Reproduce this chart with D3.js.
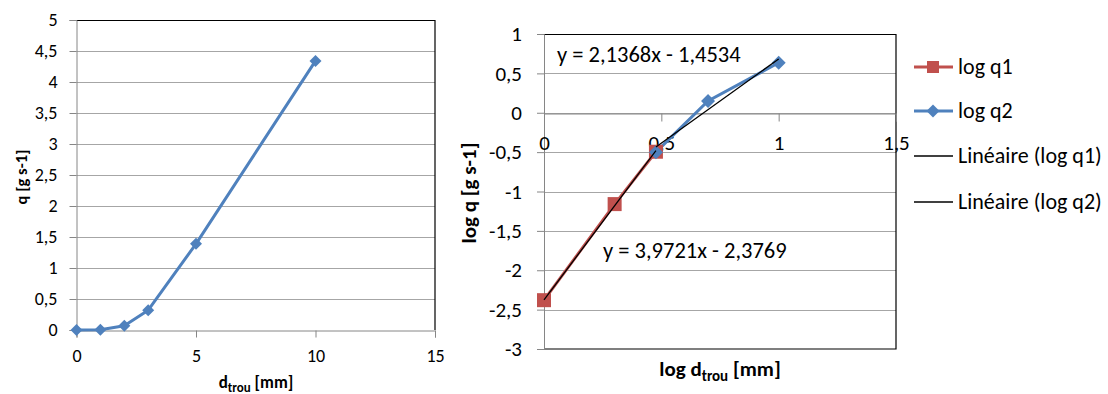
<!DOCTYPE html>
<html><head><meta charset="utf-8">
<script src="https://cdn.jsdelivr.net/npm/d3@7"></script>
<style>body{margin:0;background:#fff}svg{display:block}text{font-family:Carlito,Lato,"Open Sans",sans-serif;fill:#000}</style>
</head><body><svg id="c" width="1108" height="394"></svg>
<script>
// Left chart data
const dMm = [0, 1, 2, 3, 5, 10];
const qVals = [0, 0.004, 0.07, 0.32, 1.39, 4.34];
const leftXTicks = [0, 5, 10, 15];
const leftYTicks = [0, 0.5, 1, 1.5, 2, 2.5, 3, 3.5, 4, 4.5, 5];
// Right chart data
const logD1 = [0, 0.301, 0.477];
const logQ1 = [-2.38, -1.16, -0.495];
const logD2 = [0.477, 0.699, 1];
const logQ2 = [-0.5, 0.15, 0.635];
const trendSlope = [3.9721, 2.1368];
const trendIntercept = [-2.3769, -1.4534];
const trendLabels = ["y = 3,9721x - 2,3769", "y = 2,1368x - 1,4534"];
const rightXTicks = [0, 0.5, 1, 1.5];
const rightYTicks = [1, 0.5, 0, -0.5, -1, -1.5, -2, -2.5, -3];
const legendLabels = ["log q1", "log q2", "Linéaire (log q1)", "Linéaire (log q2)"];

const svg = d3.select("#c");
const fmt = v => String(v).replace(".", ",");
const red = "#C0504D", blue = "#4F81BD", grid = "#a6a6a6", axisC = "#868686";
function diamondPath(s){ return `M0,${-s}L${s},0L0,${s}L${-s},0Z`; }

// ---------- LEFT CHART ----------
{
  const x = d3.scaleLinear().domain([0, 15]).range([76.5, 435]);
  const y = d3.scaleLinear().domain([0, 5]).range([330, 20]);
  const g = svg.append("g");
  g.selectAll("line.gy").data(leftYTicks.filter(v => v > 0 && v < 5)).join("line")
    .attr("x1", x(0)).attr("x2", x(15)).attr("y1", d => Math.round(y(d)) + 0.5).attr("y2", d => Math.round(y(d)) + 0.5)
    .attr("stroke", grid).attr("stroke-width", 1);
  g.append("path").attr("d", `M${x(0)},${y(5)+0.5}H${x(15)}V${y(0)}`).attr("fill", "none").attr("stroke", "#000").attr("stroke-width", 1.2);
  const ya = d3.axisLeft(y).tickValues(leftYTicks).tickFormat(fmt).tickSize(7).tickPadding(12);
  const yg = g.append("g").attr("transform", `translate(${x(0)},0)`).call(ya);
  yg.select(".domain").attr("stroke", axisC);
  yg.selectAll(".tick line").attr("stroke", axisC);
  yg.selectAll("text").style("font-size", "18px").attr("fill", "#000");
  const xa = d3.axisBottom(x).tickValues(leftXTicks).tickSize(7).tickPadding(12);
  const xg = g.append("g").attr("transform", `translate(0,${y(0)+0.5})`).call(xa);
  xg.select(".domain").attr("stroke", axisC);
  xg.selectAll(".tick line").attr("stroke", axisC);
  xg.selectAll("text").style("font-size", "18px").attr("fill", "#000");
  const pts = dMm.map((d, i) => [d, qVals[i]]);
  g.append("path").datum(pts).attr("d", d3.line().x(d => x(d[0])).y(d => y(d[1])))
    .attr("fill", "none").attr("stroke", blue).attr("stroke-width", 3).attr("stroke-linejoin", "round");
  g.selectAll("path.mk").data(pts).join("path").attr("class", "mk")
    .attr("transform", d => `translate(${x(d[0])},${y(d[1])})`).attr("d", diamondPath(6)).attr("fill", blue);
  g.append("text").attr("transform", `translate(27,177) rotate(-90)`).attr("text-anchor", "middle")
    .style("font-size", "16.5px").style("font-weight", "bold").text("q [g s-1]");
  const xt = g.append("text").attr("x", 256).attr("y", 388).attr("text-anchor", "middle").style("font-size", "17px").style("font-weight", "bold");
  xt.append("tspan").text("d");
  xt.append("tspan").attr("dy", 4).style("font-size", "13px").text("trou");
  xt.append("tspan").attr("dy", -4).text(" [mm]");
}

// ---------- RIGHT CHART ----------
{
  const x = d3.scaleLinear().domain([0, 1.5]).range([544, 896]);
  const y = d3.scaleLinear().domain([-3, 1]).range([349, 34]);
  const g = svg.append("g");
  g.selectAll("line.gy").data(rightYTicks.filter(v => v > -3 && v < 1)).join("line")
    .attr("x1", x(0)).attr("x2", x(1.5)).attr("y1", d => Math.round(y(d)) + 0.5).attr("y2", d => Math.round(y(d)) + 0.5)
    .attr("stroke", grid).attr("stroke-width", 1);
  g.append("path").attr("d", `M${x(0)},${y(1)+0.5}H${x(1.5)}V${y(-3)}H${x(0)}`).attr("fill", "none").attr("stroke", "#000").attr("stroke-width", 1.2);
  const ya = d3.axisLeft(y).tickValues(rightYTicks).tickFormat(fmt).tickSize(7).tickPadding(15);
  const yg = g.append("g").attr("transform", `translate(${x(0)},0)`).call(ya);
  yg.select(".domain").attr("stroke", axisC);
  yg.selectAll(".tick line").attr("stroke", axisC);
  yg.selectAll("text").style("font-size", "21px").attr("fill", "#000");
  const xa = d3.axisBottom(x).tickValues(rightXTicks).tickFormat(fmt).tickSize(8).tickPadding(14);
  const xg = g.append("g").attr("transform", `translate(0,${Math.round(y(0))+0.5})`).call(xa);
  xg.select(".domain").attr("stroke", axisC);
  xg.selectAll(".tick line").attr("stroke", axisC);
  xg.selectAll("text").style("font-size", "21px").attr("fill", "#000");
  const line = d3.line().x(d => x(d[0])).y(d => y(d[1]));
  const p1 = logD1.map((d, i) => [d, logQ1[i]]);
  const p2 = logD2.map((d, i) => [d, logQ2[i]]);
  g.append("path").datum(p1).attr("d", line).attr("fill", "none").attr("stroke", red).attr("stroke-width", 3);
  g.append("path").datum(p2).attr("d", line).attr("fill", "none").attr("stroke", blue).attr("stroke-width", 3);
  g.selectAll("rect.m1").data(p1).join("rect").attr("x", d => x(d[0]) - 7).attr("y", d => y(d[1]) - 7)
    .attr("width", 14).attr("height", 14).attr("fill", red);
  g.selectAll("path.m2").data(p2).join("path").attr("transform", d => `translate(${x(d[0])},${y(d[1])})`)
    .attr("d", diamondPath(7)).attr("fill", blue);
  const ranges = [[d3.min(logD1), d3.max(logD1)], [d3.min(logD2), d3.max(logD2)]];
  ranges.forEach((r, i) => {
    const pts = r.map(v => [v, trendSlope[i] * v + trendIntercept[i]]);
    g.append("path").datum(pts).attr("d", line).attr("fill", "none").attr("stroke", "#000").attr("stroke-width", 1.3);
  });
  g.append("text").attr("x", 603).attr("y", 258).style("font-size", "22.5px").text(trendLabels[0]);
  g.append("text").attr("x", 557).attr("y", 62).style("font-size", "22.5px").text(trendLabels[1]);
  g.append("text").attr("transform", `translate(476,193) rotate(-90)`).attr("text-anchor", "middle")
    .style("font-size", "21px").style("font-weight", "bold").text("log q [g s-1]");
  const xt = g.append("text").attr("x", 720).attr("y", 376).attr("text-anchor", "middle").style("font-size", "21px").style("font-weight", "bold");
  xt.append("tspan").text("log d");
  xt.append("tspan").attr("dy", 5).style("font-size", "15px").text("trou");
  xt.append("tspan").attr("dy", -5).text(" [mm]");
  const ly = [67, 111, 156, 202];
  const lg = svg.append("g");
  legendLabels.forEach((t, i) => {
    const c = i === 0 ? red : i === 1 ? blue : "#000";
    lg.append("line").attr("x1", 914).attr("x2", 953).attr("y1", ly[i]).attr("y2", ly[i])
      .attr("stroke", c).attr("stroke-width", i < 2 ? 3 : 1.3);
    if (i === 0) lg.append("rect").attr("x", 927).attr("y", ly[i] - 6).attr("width", 12).attr("height", 12).attr("fill", red);
    if (i === 1) lg.append("path").attr("transform", `translate(933,${ly[i]})`).attr("d", diamondPath(6.5)).attr("fill", blue);
    lg.append("text").attr("x", 958).attr("y", ly[i] + 7).style("font-size", "22px").text(t);
  });
}
</script></body></html>
